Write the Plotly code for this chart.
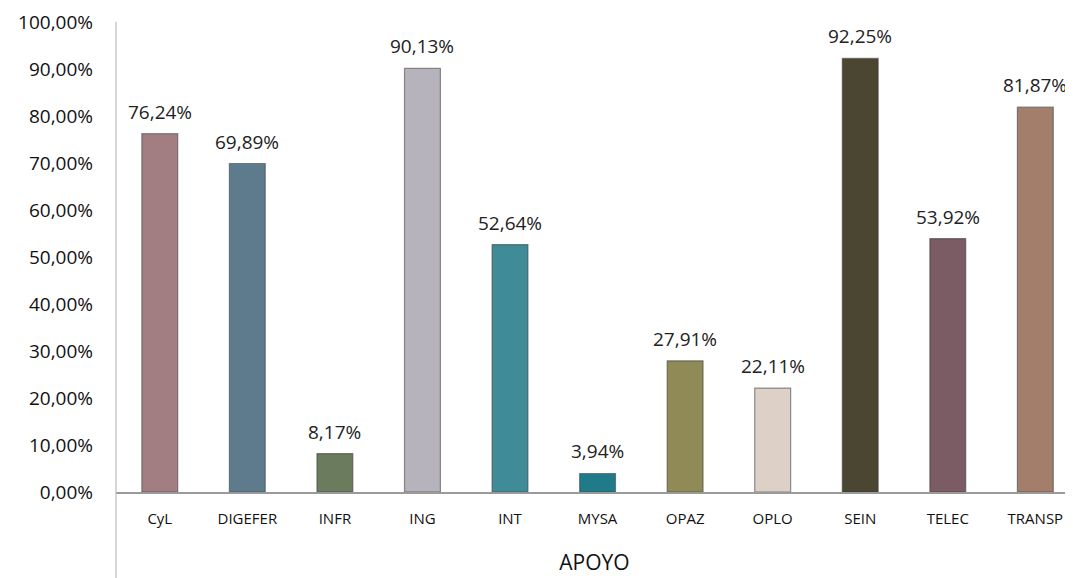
import plotly.graph_objects as go

categories = ["CyL", "DIGEFER", "INFR", "ING", "INT", "MYSA", "OPAZ", "OPLO", "SEIN", "TELEC", "TRANSP"]
values = [76.24, 69.89, 8.17, 90.13, 52.64, 3.94, 27.91, 22.11, 92.25, 53.92, 81.87]
colors = ["#a27e82", "#5e7b8d", "#6b7b5e", "#b7b3bc", "#3f8b98", "#1f7b89",
          "#8f8a56", "#ddd1c7", "#4a4631", "#7b5b64", "#a27e6b"]
y_ticks = [0, 10, 20, 30, 40, 50, 60, 70, 80, 90, 100]
y_tick_text = ["0,00%", "10,00%", "20,00%", "30,00%", "40,00%", "50,00%",
               "60,00%", "70,00%", "80,00%", "90,00%", "100,00%"]
x_title = "APOYO"

FONT = "'Open Sans', Lato, sans-serif"

fig = go.Figure()
fig.add_trace(go.Bar(
    x=categories, y=values, width=0.41,
    marker=dict(color=colors, line=dict(color="rgba(60,60,60,0.55)", width=1.2)),
    hoverinfo="x+y",
))

for c, v in zip(categories, values):
    fig.add_annotation(x=c, y=v, text=f"{v:.2f}%".replace(".", ","),
                       showarrow=False, yanchor="bottom", yshift=7,
                       font=dict(family=FONT, size=19, color="#222"))

# vertical axis line extending below plot area
fig.add_shape(type="line", xref="paper", yref="paper", x0=0, x1=0, y0=-0.2, y1=1.0,
              line=dict(color="#bdbdbd", width=1.2))

fig.update_layout(
    width=1065, height=570,
    margin=dict(l=108, r=0, t=14, b=86),
    paper_bgcolor="white", plot_bgcolor="white",
    showlegend=False,
    xaxis=dict(
        range=[-0.5, 10.43],
        showgrid=False, showline=True, linecolor="#9a9a9a", linewidth=1.5,
        ticks="", ticklabelstandoff=12,
        tickfont=dict(family=FONT, size=15, color="#111"),
        title=dict(text=x_title, font=dict(family=FONT, size=21, color="#111"), standoff=29),
    ),
    yaxis=dict(
        range=[0, 100], tickvals=y_ticks, ticktext=y_tick_text,
        showgrid=False, zeroline=False, showline=False,
        ticks="", ticklabelstandoff=22,
        tickfont=dict(family=FONT, size=19, color="#111"),
    ),
)

fig.write_html("out.html")
